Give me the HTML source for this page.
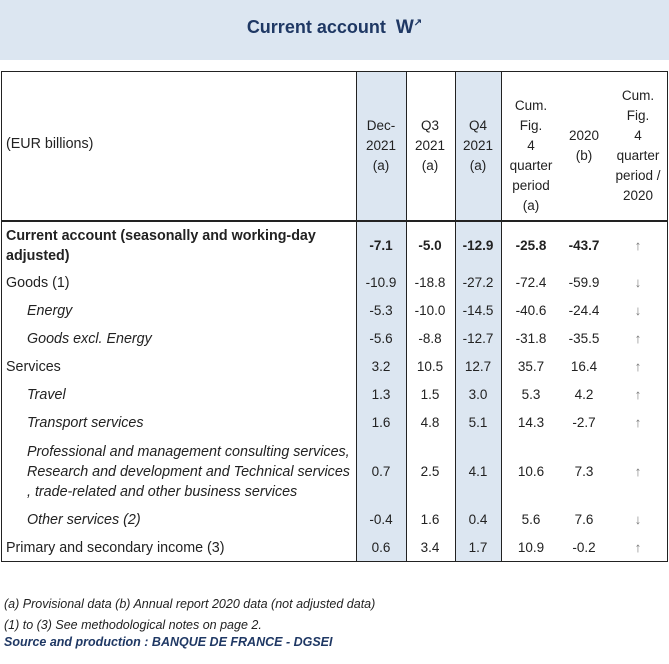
<!DOCTYPE html>
<html><head><meta charset="utf-8">
<style>
body{margin:0;width:669px;height:664px;background:#fff;position:relative;overflow:hidden;font-family:"Liberation Sans",sans-serif;color:#222;}
.abs{position:absolute;}
#banner{left:0;top:0;width:669px;height:60px;background:#dce6f1;}
#title{left:0;width:669px;top:17px;text-align:center;font-weight:bold;font-size:18px;color:#1f3864;}
#tbl{left:1px;top:71px;width:665px;height:489px;border:1.5px solid #222;}
.cell{font-size:13.5px;white-space:nowrap;}
.lbl{font-size:14.3px;}
.foot{font-size:12.5px;font-style:italic;left:4px;}
</style></head><body>
<div id="banner" class="abs"></div>
<div id="title" class="abs">Current account&nbsp;&nbsp;<span style="font-size:19px">W<sup style="font-size:10px">↗</sup></span></div>
<div id="tbl" class="abs"></div>
<div id="layer"></div>
<div class="abs foot" style="top:597px">(a) Provisional data (b) Annual report 2020 data (not adjusted data)</div>
<div class="abs foot" style="top:618px">(1) to (3) See methodological notes on page 2.</div>
<div class="abs foot" style="top:635px;font-weight:bold;color:#1f3864">Source and production : BANQUE DE FRANCE - DGSEI</div>
<script>
const labels=["Current account (seasonally and working-day|adjusted)","Goods (1)","Energy","Goods excl. Energy","Services","Travel","Transport services","Professional and management consulting services,|Research and development and Technical services|, trade-related and other business services","Other services (2)","Primary and secondary income (3)"];
const italic=[0,0,1,1,0,1,1,1,1,0];
const dec2021=["-7.1","-10.9","-5.3","-5.6","3.2","1.3","1.6","0.7","-0.4","0.6"];
const q3=["-5.0","-18.8","-10.0","-8.8","10.5","1.5","4.8","2.5","1.6","3.4"];
const q4=["-12.9","-27.2","-14.5","-12.7","12.7","3.0","5.1","4.1","0.4","1.7"];
const cum=["-25.8","-72.4","-40.6","-31.8","35.7","5.3","14.3","10.6","5.6","10.9"];
const y2020=["-43.7","-59.9","-24.4","-35.5","16.4","4.2","-2.7","7.3","7.6","-0.2"];
const trend=["↑","↓","↓","↑","↑","↑","↑","↑","↓","↑"];
const L=document.getElementById('layer');
function add(html,css,name,cls){const d=document.createElement('div');d.className='abs cell'+(cls?' '+cls:'');d.innerHTML=html;d.style.cssText=css;


L.appendChild(d);return d;}
add('','left:356px;top:72px;width:50px;height:489px;background:#dce6f1','shade-dec-column');
add('','left:455px;top:72px;width:46px;height:489px;background:#dce6f1','shade-q4-column');
[356,406,455,501].forEach(x=>add('','left:'+x+'px;top:72px;width:1px;height:489px;background:#222','column-divider'));
add('','left:1px;top:220px;width:667px;height:2px;background:#222','header-divider');
const cx=[381,430,478,531,584,638];
const heads=["Dec-<br>2021<br>(a)","Q3<br>2021<br>(a)","Q4<br>2021<br>(a)","Cum.<br>Fig.<br>4<br>quarter<br>period<br>(a)","2020<br>(b)","Cum.<br>Fig.<br>4<br>quarter<br>period /<br>2020"];
const htop=[116,116,116,96,126,86];
heads.forEach((h,i)=>add(h,'left:'+(cx[i]-40)+'px;width:80px;text-align:center;top:'+htop[i]+'px;line-height:20px','column-header'));
add('(EUR billions)','left:6px;top:136px','unit-label','lbl');
const rowTop=[222,269,297,325,353,381,409,437,506,534];
const rowH=[47,28,28,28,28,28,28,69,28,28];
labels.forEach((lab,i)=>{
 const lines=lab.split('|');const lh=20;const t=rowTop[i]+(rowH[i]-lines.length*lh)/2;
 const st=(i==0?'font-weight:bold;':'')+(italic[i]?'font-style:italic;':'');
 add(lines.join('<br>'),'left:'+(italic[i]?27:6)+'px;top:'+t+'px;line-height:20px;'+st,'row-label','lbl');
 const vals=[dec2021[i],q3[i],q4[i],cum[i],y2020[i],trend[i]];
 vals.forEach((v,j)=>add(v,'left:'+(cx[j]-30)+'px;width:60px;text-align:center;top:'+(rowTop[i]+rowH[i]/2-10)+'px;line-height:20px;'+(i==0&&j<5?'font-weight:bold;':'')+(j==5?'color:#777;':''),'value-cell'));
});
</script>
</body></html>
